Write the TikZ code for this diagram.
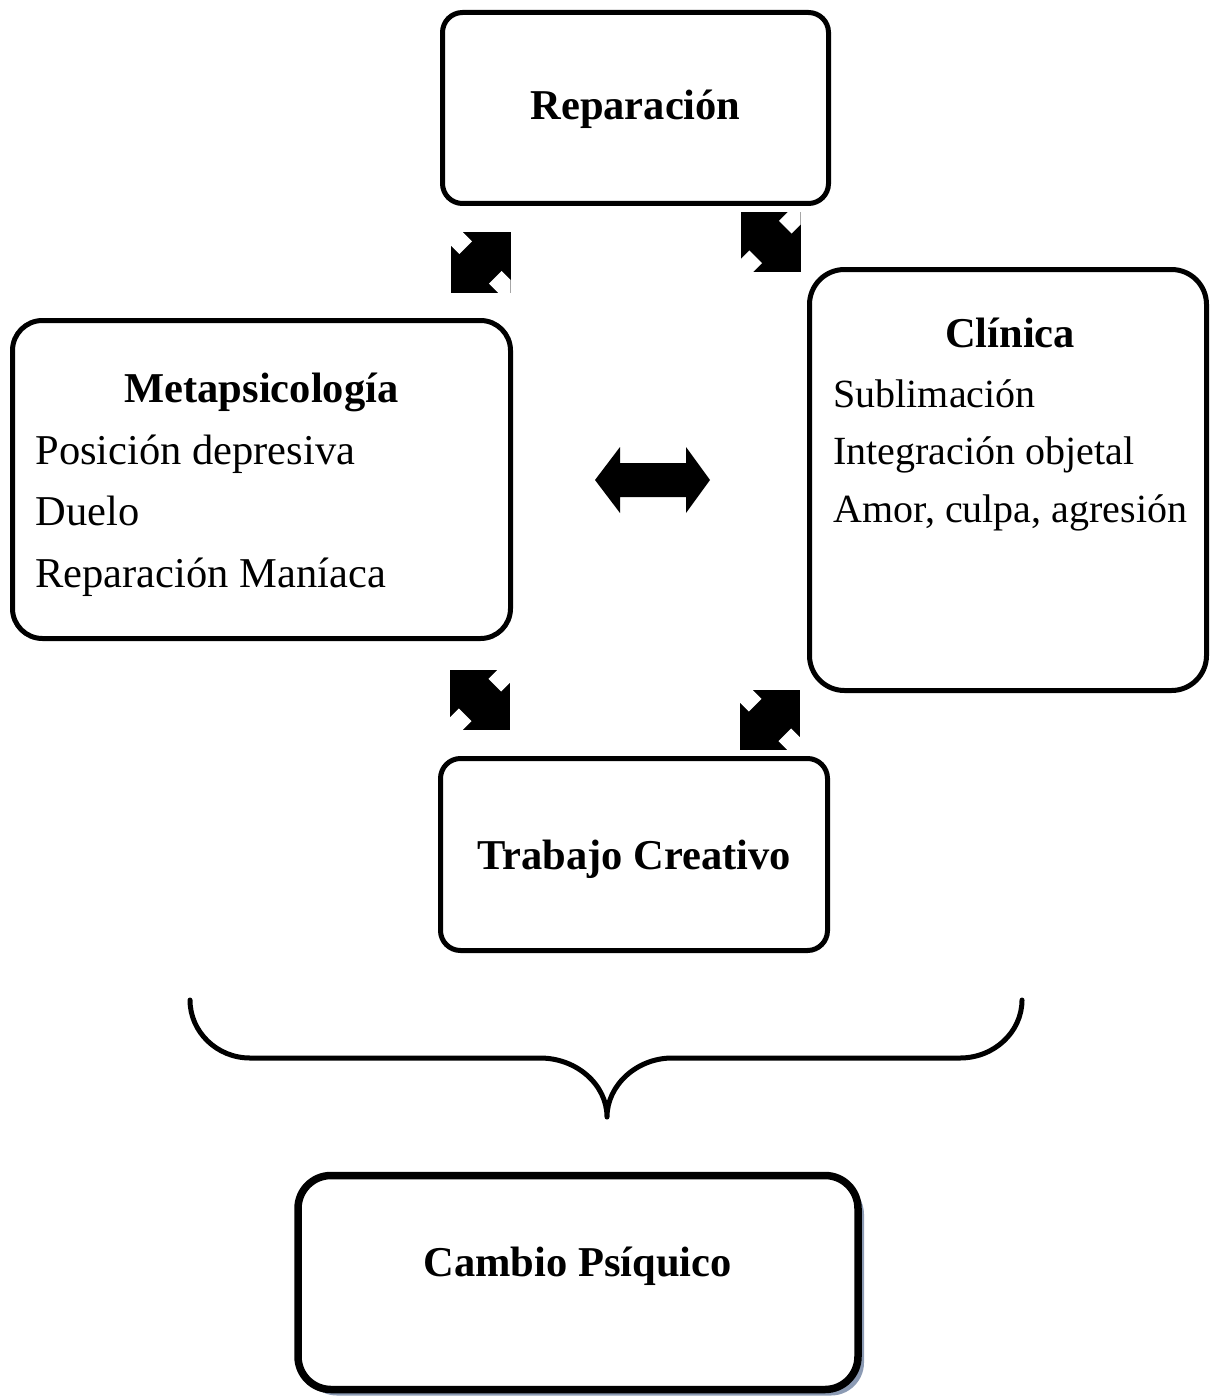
\documentclass[tikz,border=0pt]{standalone}
\usepackage{fontspec}
\setmainfont{Liberation Serif}
\usetikzlibrary{shadows}
\definecolor{sombra}{RGB}{140,155,180}

\begin{document}
\begin{tikzpicture}[x=0.5pt, y=-0.5pt,
    every node/.style={font=\fontsize{21.25pt}{30.75pt}\selectfont},
    caja/.style={draw, line width=2.5pt, rounded corners=10pt, inner sep=0pt},
    tit/.style={font=\fontsize{21.25pt}{30.75pt}\selectfont\bfseries, anchor=base},
    txt/.style={align=left, anchor=base west, inner sep=0pt},
    pics/flecha/.style={code={
      \fill (-30,-30) rectangle (30,30);
      \begin{scope}
        \clip (-30,-30) rectangle (30,30);
        \fill[white, rotate=#1] (-9,21) rectangle (9,60);
        \fill[white, rotate=#1] (-9,-21) rectangle (9,-60);
      \end{scope}}}]
  \useasboundingbox (0,0) rectangle (1211,1396);

  % cajas superiores
  \node[caja, minimum width=193pt, minimum height=95.5pt] (rep) at (635.5,108) {};
  \node[tit] (tRep) at (635.5,120) {Reparación};

  \node[caja, rounded corners=15pt, minimum width=249pt, minimum height=159pt] (meta) at (261.5,479.5) {};
  \node[tit] (tMeta) at (261.5,402) {Metapsicología};
  % base = linea de abajo
  \node[txt] (lMeta) at (35,587) {Posición depresiva\\Duelo\\Reparación Maníaca};

  \node[caja, rounded corners=17.5pt, minimum width=198.5pt, minimum height=210.5pt] (clin) at (1008,480) {};
  \node[tit] (tClin) at (1010,347) {Clínica};
  \node[txt, font=\fontsize{20pt}{28.75pt}\selectfont] (lClin) at (833,522)
    {Sublimación\\Integración objetal\\Amor, culpa, agresión};

  \node[caja, minimum width=193.5pt, minimum height=96pt] (trab) at (634,854.5) {};
  \node[tit] (tTrab) at (634,869) {Trabajo Creativo};

  % flechas
  \pic at (480.5,262.5) {flecha=45};
  \pic at (770.5,242) {flecha=-45};
  \pic at (480,700) {flecha=-45};
  \pic at (770,720) {flecha=45};
  \fill (595,480) -- (620,447) -- (620,463) -- (686,463) -- (686,447) -- (710,480)
    -- (686,513) -- (686,497) -- (620,497) -- (620,513) -- cycle;

  % llave
  \draw[line width=2.5pt, line cap=round, line join=round]
    (190,1000) .. controls (190,1032) and (217,1058) .. (250,1058) -- (540,1058)
    .. controls (577,1058) and (607,1085) .. (607,1117)
    .. controls (607,1085) and (637,1058) .. (672,1058) -- (960,1058)
    .. controls (994,1058) and (1022,1032) .. (1022,1000);

  % resultado
  \node[caja, line width=3.75pt, rounded corners=16.5pt, fill=white,
    drop shadow={shadow xshift=3pt, shadow yshift=-3pt, fill=sombra, opacity=1},
    minimum width=280pt, minimum height=107pt] (camb) at (578,1282.5) {};
  \node[tit] (tCamb) at (577.5,1276) {Cambio Psíquico};
\end{tikzpicture}
\end{document}
